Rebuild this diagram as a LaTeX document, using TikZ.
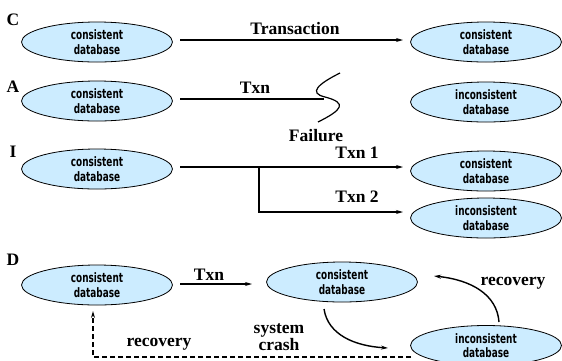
\documentclass[tikz,border=0pt]{standalone}
\usepackage{fontspec}
\setmainfont{Liberation Serif}
\newfontfamily\dbfont{DejaVu Sans Condensed}[FakeStretch=0.76]
\usetikzlibrary{shapes.geometric,arrows.meta}
\definecolor{dbfill}{RGB}{204,236,255}
\tikzset{
  db/.style={ellipse,draw=black,line width=0.8pt,fill=dbfill,minimum width=151pt,minimum height=40pt,inner sep=0pt,align=center,font=\dbfont\bfseries\fontsize{13}{14.5}\selectfont},
  lbl/.style={font=\bfseries\fontsize{17.5}{17}\selectfont,inner sep=0pt},
  conn/.style={line width=1.4pt,-{Stealth[length=7pt,width=4pt]}},
  plain/.style={line width=1.4pt}
}
\begin{document}
\begin{tikzpicture}[x=1pt,y=-1pt]
\useasboundingbox (0,0) rectangle (562,360);
% C
\node[lbl] (lc) at (13,20) {C};
\node[db] (c1) at (97,42) {consistent\\database};
\node[db] (c2) at (486,42) {consistent\\database};
\coordinate (cs) at (180,40);
\coordinate (ce) at (403,40);
\draw[conn] (cs) -- (ce);
\node[lbl] (tc) at (295,29) {Transaction};
% A
\node[lbl] (la) at (13,87) {A};
\node[db] (a1) at (97,101) {consistent\\database};
\node[db] (a2) at (486,102) {inconsistent\\database};
\coordinate (as) at (180,99);
\coordinate (af) at (324,99);
\draw[plain] (as) -- (af);
\draw[line width=1.2pt] (340,73) .. controls (318,84) and (308,93) .. (325,97) .. controls (348,103) and (342,110) .. (318,122);
\node[lbl] (ta) at (255,88) {Txn};
\node[lbl] (fa) at (316,136) {Failure};
% I
\node[lbl] (li) at (13,152) {I};
\node[db] (i1) at (97,169) {consistent\\database};
\node[db] (i2) at (486,171) {consistent\\database};
\node[db] (i3) at (486,218) {inconsistent\\database};
\coordinate (is) at (180,167);
\coordinate (ib) at (259,167);
\coordinate (ic) at (259,212);
\coordinate (ie1) at (403,167);
\coordinate (ie2) at (403,212);
\draw[conn] (is) -- (ie1);
\draw[conn] (ib) -- (ic) -- (ie2);
\node[lbl] (t1) at (357,153) {Txn 1};
\node[lbl] (t2) at (357,197) {Txn 2};
% D
\node[lbl] (ld) at (13,260) {D};
\node[db] (d1) at (97,285) {consistent\\database};
\node[db] (d2) at (342,282) {consistent\\database};
\node[db] (d3) at (486,345.5) {inconsistent\\database};
\coordinate (ds) at (180,284);
\coordinate (de) at (252,284);
\draw[conn] (ds) -- (de);
\node[lbl] (td) at (209,275) {Txn};
\coordinate (sc1) at (324,309);
\coordinate (sc2) at (388,348);
\draw[conn] (sc1) .. controls (328,335) and (355,346) .. (sc2);
\node[lbl,align=center] (sc) at (279,337) {system\\crash};
\coordinate (rc1) at (499,322);
\coordinate (rc2) at (434,276);
\draw[conn] (rc1) .. controls (497,295) and (472,280) .. (rc2);
\node[lbl] (rr) at (513,283) {recovery};
\coordinate (dl1) at (411,357);
\coordinate (dl2) at (93,357);
\coordinate (dl3) at (93,311);
\draw[line width=1.4pt,dash pattern=on 5pt off 3pt,-{Stealth[length=7pt,width=4pt]}] (dl1) -- (dl2) -- (dl3);
\node[lbl] (rl) at (159,344) {recovery};
\end{tikzpicture}
\end{document}
